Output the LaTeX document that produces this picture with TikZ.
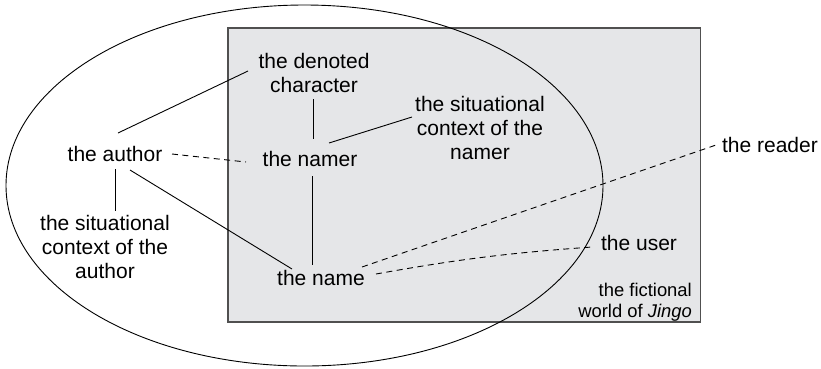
\documentclass[tikz,border=0pt]{standalone}
\usepackage{fontspec}
\setmainfont{Liberation Sans}
\definecolor{worldgray}{RGB}{229,230,232}
\definecolor{edgegray}{RGB}{80,80,80}
\begin{document}
\begin{tikzpicture}[x=1pt,y=-1pt,
  lbl/.style={inner sep=0pt, align=center, font=\fontsize{21}{24}\selectfont, anchor=base},
  small/.style={inner sep=0pt, align=right, font=\fontsize{18.4}{20.5}\selectfont, anchor=base east},
  link/.style={line width=0.9pt, black},
  dlink/.style={line width=0.9pt, black, dash pattern=on 6pt off 4.5pt}]
\useasboundingbox (0,0) rectangle (821,368);
\fill[white] (0,0) rectangle (821,368);
\draw[fill=worldgray, draw=edgegray, line width=1.3pt] (228,28) rectangle (700.5,322);
\draw[line width=0.9pt] (304.5,185.5) ellipse [x radius=298.5, y radius=180.5];
% nodes (base anchor = baseline of last line)
\node[lbl] (denoted) at (314,92) {the denoted\\character};
\node[lbl] (author) at (115,161) {the author};
\node[lbl] (namer) at (310,166) {the namer};
\node[lbl] (sitA) at (105,278) {the situational\\context of the\\author};
\node[lbl] (name) at (321,285) {the name};
\node[lbl] (sitN) at (480,159) {the situational\\context of the\\namer};
\node[lbl] (user) at (639,250) {the user};
\node[lbl] (reader) at (770,152) {the reader};
\node[small] (world) at (692,317) {the fictional\\world of \textit{Jingo}};
% connector endpoints
\coordinate (a1) at (118,133); \coordinate (d1) at (248,71);
\coordinate (d2) at (313,99);  \coordinate (n1) at (313,139);
\coordinate (n2) at (329,143); \coordinate (s1) at (412,117);
\coordinate (a2) at (115,169); \coordinate (s2) at (115,211);
\coordinate (a3) at (130,170); \coordinate (m1) at (292,269);
\coordinate (n3) at (312,176); \coordinate (m2) at (312,265);
\coordinate (a4) at (172,154); \coordinate (n4) at (246,162);
\coordinate (m3) at (362,267); \coordinate (r1) at (716,145);
\coordinate (m4) at (376,274); \coordinate (u1) at (592,247);
\draw[link] (a1) -- (d1);
\draw[link] (d2) -- (n1);
\draw[link] (n2) -- (s1);
\draw[link] (a2) -- (s2);
\draw[link] (a3) -- (m1);
\draw[link] (n3) -- (m2);
\draw[dlink] (a4) -- (n4);
\draw[dlink] (m3) -- (r1);
\draw[dlink] (m4) to[bend left=3] (u1);
\end{tikzpicture}
\end{document}
